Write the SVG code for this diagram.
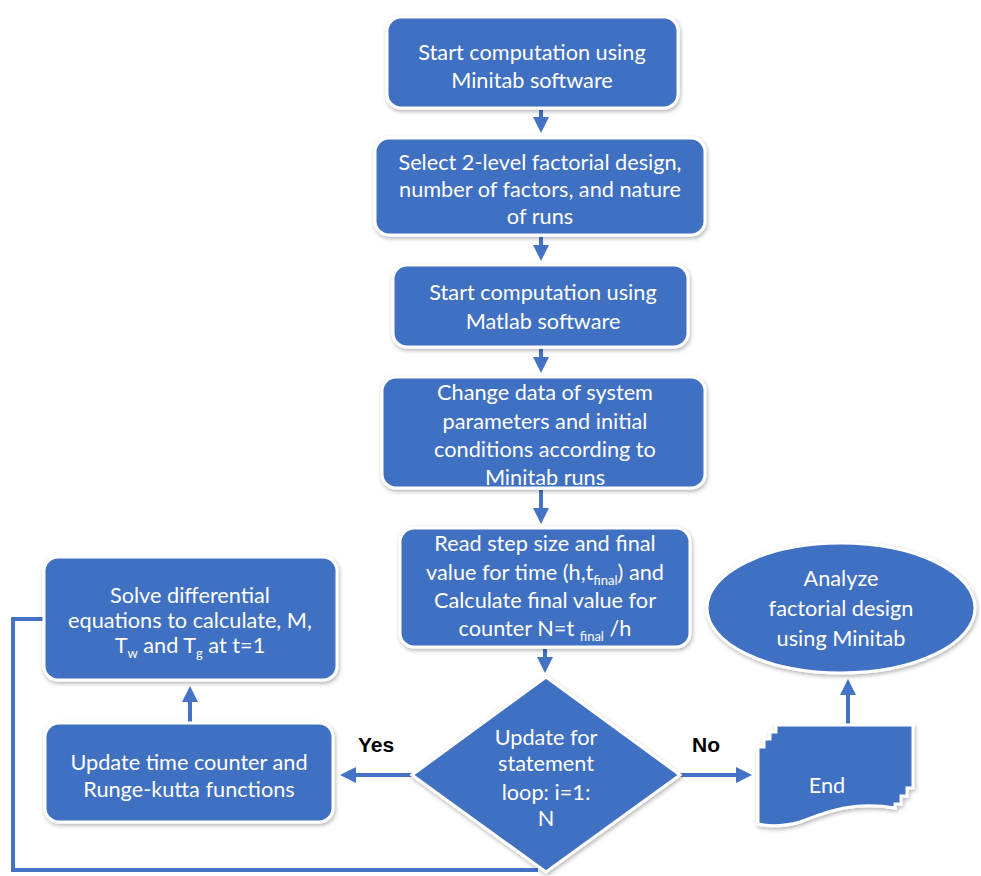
<svg xmlns="http://www.w3.org/2000/svg" width="981" height="876" viewBox="0 0 981 876">
<defs>
<filter id="sh" x="-10%" y="-10%" width="120%" height="130%">
<feDropShadow dx="1" dy="2" stdDeviation="2" flood-color="#000" flood-opacity="0.3"/>
</filter>
<marker id="ah" markerWidth="4" markerHeight="4" refX="3" refY="2" orient="auto" markerUnits="strokeWidth">
<path d="M0,0 L4,2 L0,4 Z" fill="#4472C4"/>
</marker>
</defs>
<style>
.n{fill:#4170C2;stroke:#fff;stroke-width:3;filter:url(#sh)}
.t{fill:#fff;font-family:Lato,"Open Sans",sans-serif;font-size:21.7px;text-anchor:middle}
.c{stroke:#4472C4;stroke-width:4;fill:none}
.lb{fill:#000;font-family:"Liberation Sans",Arial,sans-serif;font-weight:bold;font-size:21px}
</style>
<rect width="981" height="876" fill="#fff"/>
<g id="connectors">
<line class="c" x1="541" y1="110" x2="541" y2="129" marker-end="url(#ah)"/>
<line class="c" x1="541" y1="237" x2="541" y2="257" marker-end="url(#ah)"/>
<line class="c" x1="541" y1="349" x2="541" y2="369" marker-end="url(#ah)"/>
<line class="c" x1="541" y1="490" x2="541" y2="520" marker-end="url(#ah)"/>
<line class="c" x1="545" y1="649" x2="545" y2="669" marker-end="url(#ah)"/>
<line class="c" x1="412" y1="775" x2="344" y2="775" marker-end="url(#ah)"/>
<line class="c" x1="190" y1="723" x2="190" y2="690" marker-end="url(#ah)"/>
<line class="c" x1="680" y1="775" x2="748" y2="775" marker-end="url(#ah)"/>
<line class="c" x1="848" y1="725" x2="848" y2="683" marker-end="url(#ah)"/>
<polyline class="c" stroke-width="3.5" points="45,619 13,619 13,870 538,870"/>
<text class="lb" x="358" y="752">Yes</text>
<text class="lb" x="692" y="752">No</text>
</g>
<g id="n1">
<rect class="n" x="387" y="17" width="291" height="91" rx="14"/>
<text class="t" x="532" y="60">Start computation using</text>
<text class="t" x="532" y="88">Minitab software</text>
</g>
<g id="n2">
<rect class="n" x="375" y="138" width="330" height="97" rx="14"/>
<text class="t" x="540" y="170">Select 2-level factorial design,</text>
<text class="t" x="540" y="197">number of factors, and nature</text>
<text class="t" x="540" y="224">of runs</text>
</g>
<g id="n3">
<rect class="n" x="393" y="265" width="295" height="82" rx="14"/>
<text class="t" x="543" y="300">Start computation using</text>
<text class="t" x="543" y="329">Matlab software</text>
</g>
<g id="n4">
<rect class="n" x="382" y="377" width="323" height="111" rx="14"/>
<text class="t" x="545" y="400">Change data of system</text>
<text class="t" x="545" y="429">parameters and initial</text>
<text class="t" x="545" y="457">conditions according to</text>
<text class="t" x="545" y="485">Minitab runs</text>
</g>
<g id="n5">
<rect class="n" x="400" y="528" width="290" height="119" rx="14"/>
<text class="t" x="545" y="551">Read step size and final</text>
<text class="t" x="545" y="580">value for time (h,t<tspan font-size="13" dy="5">final</tspan><tspan dy="-5">) and</tspan></text>
<text class="t" x="545" y="608">Calculate final value for</text>
<text class="t" x="545" y="636">counter N=t <tspan font-size="13" dy="5">final</tspan><tspan dy="-5"> /h</tspan></text>
</g>
<g id="n6">
<polygon class="n" points="546,677 680,775 546,872 412,775"/>
<text class="t" x="546" y="745">Update for</text>
<text class="t" x="546" y="771">statement</text>
<text class="t" x="546" y="800">loop: i=1:</text>
<text class="t" x="546" y="826">N</text>
</g>
<g id="n7">
<rect class="n" x="45" y="723" width="288" height="99" rx="14"/>
<text class="t" x="189" y="770">Update time counter and</text>
<text class="t" x="189" y="797">Runge-kutta functions</text>
</g>
<g id="n8">
<rect class="n" x="44" y="557" width="293" height="123" rx="14"/>
<text class="t" x="190" y="603">Solve differential</text>
<text class="t" x="190" y="628">equations to calculate, M,</text>
<text class="t" x="190" y="653">T<tspan font-size="13" dy="5">w</tspan><tspan dy="-5"> and T</tspan><tspan font-size="13" dy="5">g</tspan><tspan dy="-5"> at t=1</tspan></text>
</g>
<g id="n9">
<ellipse class="n" cx="841" cy="608" rx="134" ry="65"/>
<text class="t" x="841" y="586" font-size="23">Analyze</text>
<text class="t" x="841" y="616" font-size="23">factorial design</text>
<text class="t" x="841" y="646" font-size="23">using Minitab</text>
</g>
<g id="n10">
<path class="n" d="M758,824 L758,747 L764,747 L764,739 L770,739 L770,732 L776,732 L776,725 L913,725 L913,788 L907,788 L907,796 L901,796 L901,804 L895,804 L895,808 C850,800 820,815 800,822 C785,826 770,827 758,824 Z"/>
<text class="t" x="827" y="793" font-size="23">End</text>
</g>
</svg>
